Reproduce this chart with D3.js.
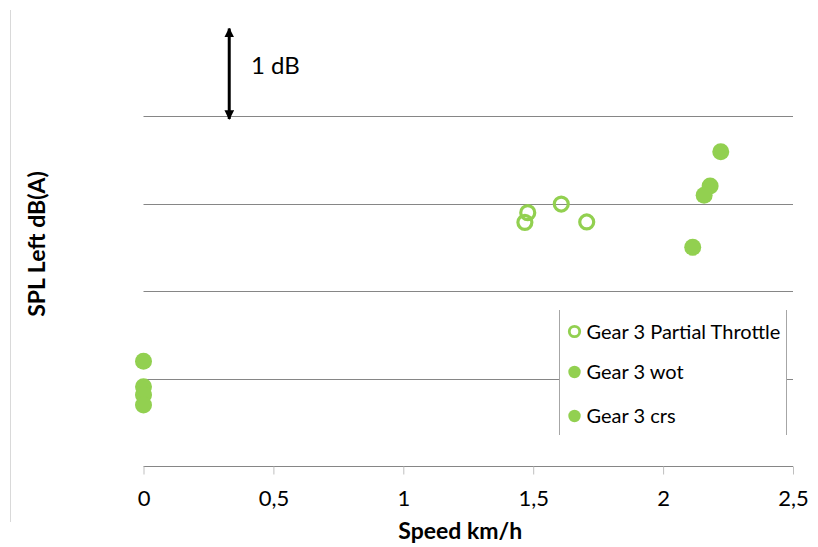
<!DOCTYPE html>
<html>
<head>
<meta charset="utf-8">
<script src="https://cdn.jsdelivr.net/npm/d3@7"></script>
<style>
  html, body { margin: 0; padding: 0; background: #fff; }
  svg { display: block; }
  text { font-family: Lato, "Noto Sans", sans-serif; fill: #000; }
</style>
</head>
<body>
<svg id="chart" width="818" height="547"></svg>
<script>
// ---- data (relative SPL in dB, speed in km/h) ----
const seriesNames = ["Gear 3 Partial Throttle", "Gear 3 wot", "Gear 3 crs"];
const ptSpeed  = [1.479, 1.468, 1.608, 1.706];
const ptSPL    = [2.895, 2.785, 2.994, 2.789];
const wotSpeed = [2.222, 2.181, 2.158, 2.114];
const wotSPL   = [3.592, 3.200, 3.094, 2.499];
const crsSpeed = [0, 0, 0, 0];
const crsSPL   = [1.197, 0.906, 0.811, 0.697];
const xTicks = [0, 0.5, 1, 1.5, 2, 2.5];
const xTickLabels = ["0", "0,5", "1", "1,5", "2", "2,5"];
const yGrid = [1, 2, 3, 4];
const arrowX = 0.33, arrowFrom = 4, arrowTo = 5;

const green = "#92D050";
const svg = d3.select("#chart");

const x = d3.scaleLinear().domain([0, 2.5]).range([143.5, 793]);
const y = d3.scaleLinear().domain([0, 5]).range([466, 28.5]);

// outer faint left border
svg.append("line").attr("x1", 10.5).attr("x2", 10.5).attr("y1", 10).attr("y2", 522)
  .attr("stroke", "#d9d9d9").attr("stroke-width", 1);

// gridlines
svg.append("g").selectAll("line").data(yGrid).join("line")
  .attr("x1", x(0)).attr("x2", x(2.5))
  .attr("y1", d => Math.round(y(d)) + 0.5).attr("y2", d => Math.round(y(d)) + 0.5)
  .attr("stroke", "#868686").attr("stroke-width", 1);

// x axis
const xAxis = d3.axisBottom(x).tickValues(xTicks)
  .tickFormat((d, i) => xTickLabels[i]).tickSize(8).tickPadding(16);
const gx = svg.append("g").attr("transform", "translate(0,466.5)").call(xAxis);
gx.select(".domain").attr("stroke", "#868686").attr("d", `M${x(0)},0H${x(2.5)}`);
gx.selectAll(".tick line").attr("stroke", "#bfbfbf");
gx.selectAll(".tick text").attr("font-size", 22).attr("font-family", "Lato, sans-serif").attr("fill", "#000");

// axis titles
svg.append("text").attr("x", x(1.25) - 8).attr("y", 539).attr("text-anchor", "middle")
  .attr("font-size", 23).attr("font-weight", "bold").text("Speed km/h");
svg.append("text").attr("transform", "translate(45,244) rotate(-90)").attr("text-anchor", "middle")
  .attr("font-size", 23).attr("font-weight", "bold").text("SPL Left dB(A)");

// 1 dB arrow
const defs = svg.append("defs");
defs.append("marker").attr("id", "ah").attr("viewBox", "0 0 10 10").attr("refX", 9).attr("refY", 5)
  .attr("markerWidth", 3.2).attr("markerHeight", 3.2).attr("orient", "auto-start-reverse")
  .attr("markerUnits", "strokeWidth")
  .append("path").attr("d", "M0,0L10,5L0,10z").attr("fill", "#000");
svg.append("line")
  .attr("x1", x(arrowX)).attr("x2", x(arrowX))
  .attr("y1", y(arrowTo) + 0).attr("y2", y(arrowFrom) + 3)
  .attr("stroke", "#000").attr("stroke-width", 3)
  .attr("marker-start", "url(#ah)").attr("marker-end", "url(#ah)");
svg.append("text").attr("x", 251).attr("y", 73.5).attr("font-size", 24).text("1 dB");

// points
const toPts = (xs, ys) => xs.map((v, i) => ({ x: v, y: ys[i] }));
svg.append("g").selectAll("circle").data(toPts(crsSpeed, crsSPL)).join("circle")
  .attr("cx", d => x(d.x)).attr("cy", d => y(d.y)).attr("r", 8.5).attr("fill", green);
svg.append("g").selectAll("circle").data(toPts(wotSpeed, wotSPL)).join("circle")
  .attr("cx", d => x(d.x)).attr("cy", d => y(d.y)).attr("r", 8.5).attr("fill", green);
svg.append("g").selectAll("circle").data(toPts(ptSpeed, ptSPL)).join("circle")
  .attr("cx", d => x(d.x)).attr("cy", d => y(d.y)).attr("r", 7).attr("fill", "none")
  .attr("stroke", green).attr("stroke-width", 3.2);

// legend
const lg = svg.append("g");
lg.append("rect").attr("x", 559).attr("y", 310).attr("width", 228).attr("height", 125).attr("fill", "#fff");
lg.append("line").attr("x1", 559.5).attr("x2", 559.5).attr("y1", 310).attr("y2", 435).attr("stroke", "#a6a6a6");
lg.append("line").attr("x1", 786.5).attr("x2", 786.5).attr("y1", 310).attr("y2", 435).attr("stroke", "#a6a6a6");
const rowsY = [331.5, 372, 416];
seriesNames.forEach((name, i) => {
  if (i === 0) {
    lg.append("circle").attr("cx", 574.5).attr("cy", rowsY[i]).attr("r", 5.2)
      .attr("fill", "none").attr("stroke", green).attr("stroke-width", 2.8);
  } else {
    lg.append("circle").attr("cx", 574.5).attr("cy", rowsY[i]).attr("r", 6.2).attr("fill", green);
  }
  lg.append("text").attr("x", 586.5).attr("y", rowsY[i] + 7).attr("font-size", 20).text(name);
});
</script>
</body>
</html>
